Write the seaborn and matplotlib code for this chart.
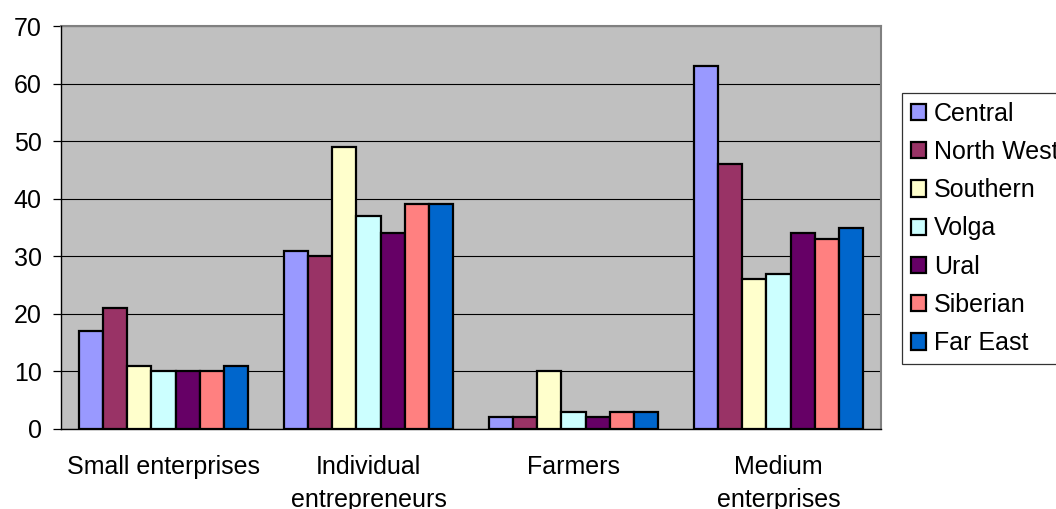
import matplotlib
matplotlib.use("Agg")
import matplotlib.pyplot as plt
from matplotlib.patches import Patch
import numpy as np
import pandas as pd
import seaborn as sns

categories = ["Small enterprises", "Individual\nentrepreneurs", "Farmers", "Medium\nenterprises"]
regions = ["Central", "North West", "Southern", "Volga", "Ural", "Siberian", "Far East"]
central = [17, 31, 2, 63]
north_west = [21, 30, 2, 46]
southern = [11, 49, 10, 26]
volga = [10, 37, 3, 27]
ural = [10, 34, 2, 34]
siberian = [10, 39, 3, 33]
far_east = [11, 39, 3, 35]
region_colors = ["#9999FF", "#993366", "#FFFFCC", "#CCFFFF", "#660066", "#FF8080", "#0066CC"]
y_ticks = [0, 10, 20, 30, 40, 50, 60, 70]

series = [central, north_west, southern, volga, ural, siberian, far_east]
rows = []
for reg, vals in zip(regions, series):
    for cat, v in zip(categories, vals):
        rows.append({"category": cat, "region": reg, "value": v})
df = pd.DataFrame(rows)

sns.set_style("white")
plt.rcParams["font.family"] = ["Liberation Sans", "DejaVu Sans"]
for key in ["text.color", "xtick.color", "ytick.color", "axes.labelcolor"]:
    plt.rcParams[key] = "black"
FS = 18

fig = plt.figure(figsize=(10.56, 5.09), dpi=100)
ax = fig.add_axes([61 / 1056, 80 / 509, 820 / 1056, 403 / 509])
ax.set_facecolor("#C0C0C0")

sns.barplot(data=df, x="category", y="value", hue="region", order=categories,
            hue_order=regions, palette=region_colors, saturation=1,
            width=7 / 8.5, gap=0, edgecolor="black", linewidth=1.6,
            errorbar=None, legend=False, ax=ax, zorder=3)

ax.set_xlim(-0.5, len(categories) - 0.5)
ax.set_ylim(0, 70)
ax.set_yticks(y_ticks)
ax.yaxis.grid(True, color="black", linewidth=0.8, zorder=1)
ax.set_axisbelow(True)
ax.set_xlabel("")
ax.set_ylabel("")

# category labels centred, tick marks on the boundaries
ax.set_xticks(range(len(categories)))
ax.set_xticklabels(categories, fontsize=FS, linespacing=1.45)
ax.set_xticks(np.arange(-0.5, len(categories)), minor=True)
ax.tick_params(axis="x", which="major", length=0, pad=19)
ax.tick_params(axis="x", which="minor", length=6, width=0.9, direction="out", color="black")
ax.tick_params(axis="y", length=6, width=0.9, direction="out", color="black", pad=8,
               labelsize=FS, left=True)

for side in ["top", "right"]:
    ax.spines[side].set_color("#808080")
    ax.spines[side].set_linewidth(1.5)
for side in ["left", "bottom"]:
    ax.spines[side].set_color("black")
    ax.spines[side].set_linewidth(1.0)
ax.spines["left"].set_zorder(4)
ax.spines["bottom"].set_zorder(4)

handles = [Patch(facecolor=c, edgecolor="black", linewidth=1.6) for c in region_colors]
leg = fig.legend(handles, regions, loc="upper left",
                 bbox_to_anchor=(902 / 1056, 1 - 93 / 509),
                 fontsize=FS, frameon=True, fancybox=False, edgecolor="black",
                 handlelength=0.62, handleheight=0.62, handletextpad=0.3,
                 labelspacing=0.57, borderpad=0.35, borderaxespad=0)
leg.get_frame().set_linewidth(0.9)

fig.savefig("out.png", dpi=100)
